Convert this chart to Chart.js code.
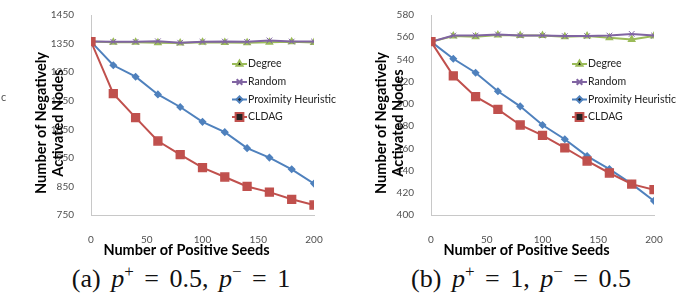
<!DOCTYPE html>
<html>
<head>
<meta charset="utf-8">
<script src="https://cdn.jsdelivr.net/npm/chart.js@4/dist/chart.umd.min.js"></script>
<style>
  body { margin: 0; background: #fff; width: 683px; height: 303px; overflow: hidden; position: relative; }
  .box { position: absolute; top: 0; width: 340px; height: 262px; }
  .cap { position: absolute; top: 264px; width: 362px; text-align: center; word-spacing: 4px;
         font-family: "Liberation Serif", serif; font-size: 26px; color: #111; white-space: nowrap; }
  .cap sup { font-size: 17px; vertical-align: 10px; line-height: 0; }
  .ytitle { position: absolute; top: 122.5px; width: 170px; text-align: center; line-height: 18px;
            font: bold 14.5px Lato, sans-serif; color: #000; white-space: nowrap;
            transform: translate(-50%, -50%) rotate(-90deg); }
  .stray { position: absolute; left: 1px; top: 90px; font: 11px Lato, sans-serif; color: #555; }
</style>
</head>
<body>
<div class="box" style="left:0"><canvas id="chartA" width="340" height="262"></canvas></div>
<div class="box" style="left:340px"><canvas id="chartB" width="340" height="262"></canvas></div>
<div class="ytitle" style="left:49px"></div>
<div class="ytitle" style="left:389px"></div>
<div class="cap" style="left:0">(a) <i>p</i><sup>+</sup> = 0.5, <i>p</i><sup>−</sup> = 1</div>
<div class="cap" style="left:340px">(b) <i>p</i><sup>+</sup> = 1, <i>p</i><sup>−</sup> = 0.5</div>
<div class="stray">c</div>
<script>
// données
const seeds = [0, 20, 40, 60, 80, 100, 120, 140, 160, 180, 200];
const seriesNames = ['Degree', 'Random', 'Proximity Heuristic', 'CLDAG'];

const degreeA = [1357, 1355, 1355, 1353, 1352, 1355, 1354, 1353, 1355, 1356, 1354];
const randomA = [1357, 1356, 1356, 1358, 1353, 1356, 1357, 1356, 1361, 1357, 1357];
const proximityA = [1357, 1274, 1234, 1172, 1128, 1076, 1040, 984, 951, 910, 860];
const cldagA = [1357, 1175, 1091, 1009, 961, 916, 883, 850, 830, 805, 785];

const degreeB = [556, 561, 560.5, 562, 561.5, 561.5, 560.5, 561, 559.5, 558, 561];
const randomB = [556, 561.5, 561.5, 562.5, 561.5, 561.5, 561, 561, 561.5, 563, 561.5];
const proximityB = [556, 540.6, 528, 511.4, 497.8, 481, 468.2, 453, 441.3, 428, 412.7];
const cldagB = [556, 525.3, 506.5, 495, 481, 471.7, 460.4, 448.6, 437.8, 427.8, 422.8];

const xTicks = [0, 50, 100, 150, 200];
const yRangeA = [750, 1450, 100];
const yRangeB = [400, 580, 20];

const xTitle = 'Number of Positive Seeds';
const yTitle = ['Number of Negatively', 'Activated Nodes'];

document.querySelectorAll('.ytitle').forEach(el => {
  el.innerHTML = yTitle.join('<br>');
});

const styles = [
  { color: '#9bbb59', pointStyle: 'triangle', radius: 3.5, order: 3 },
  { color: '#8064a2', pointStyle: 'crossRot', radius: 4, order: 2 },
  { color: '#4f81bd', pointStyle: 'rectRot', radius: 3, order: 1 },
  { color: '#c0504d', pointStyle: 'rect', radius: 5.5, order: 0 }
];

const tickFont = { family: 'Lato', size: 10 };

function pts(values) {
  return values.map((v, i) => ({ x: seeds[i], y: v }));
}

// titre de l'axe x et légende dessinés à la main
const extras = {
  id: 'extras',
  afterDraw(chart) {
    const { ctx, chartArea } = chart;
    ctx.save();
    ctx.fillStyle = '#000';
    ctx.font = 'bold 14.5px Lato';
    ctx.textAlign = 'center';
    ctx.textBaseline = 'middle';
    ctx.fillText(xTitle, (chartArea.left + chartArea.right) / 2 - 16, chartArea.bottom + 35);

    const lx = chartArea.left + 141;
    const rows = [49, 67, 84.5, 102];
    ctx.font = '10.5px Lato';
    ctx.textAlign = 'left';
    chart.data.datasets.forEach((ds, i) => {
      const y = chartArea.top + rows[i];
      ctx.strokeStyle = ds.borderColor;
      ctx.lineWidth = 2;
      ctx.beginPath();
      ctx.moveTo(lx, y);
      ctx.lineTo(lx + 15, y);
      ctx.stroke();
      Chart.helpers.drawPoint(ctx, {
        pointStyle: ds.pointStyle, radius: ds.pointRadius, rotation: 0, borderWidth: ds.pointBorderWidth
      }, lx + 7.5, y);
      ctx.fillStyle = '#222';
      ctx.fillText(ds.label, lx + 16, y);
    });
    ctx.restore();
  }
};

function makeChart(id, series, yRange) {
  const ctx = document.getElementById(id).getContext('2d');
  const datasets = series.map((vals, i) => ({
    label: seriesNames[i],
    data: pts(vals),
    borderColor: styles[i].color,
    backgroundColor: styles[i].color,
    pointStyle: styles[i].pointStyle,
    pointRadius: styles[i].radius,
    pointBorderWidth: i === 1 ? 1 : 1.5,
    borderWidth: 2,
    order: styles[i].order,
    fill: false
  }));

  return new Chart(ctx, {
    type: 'line',
    data: { datasets: datasets },
    options: {
      responsive: false,
      animation: false,
      layout: { padding: { top: 8, right: 26, left: 0, bottom: 0 } },
      plugins: { legend: { display: false }, tooltip: { enabled: false } },
      scales: {
        x: {
          type: 'linear',
          min: 0, max: 200,
          afterBuildTicks: s => { s.ticks = xTicks.map(v => ({ value: v })); },
          afterFit: s => { s.height = 47; },
          grid: { display: false },
          border: { color: '#c8c8c8', width: 1 },
          ticks: { font: tickFont, color: '#505050', padding: 11, maxRotation: 0, callback: v => v }
        },
        y: {
          min: yRange[0], max: yRange[1],
          afterFit: s => { s.width = 91; },
          grid: { display: false },
          border: { color: '#c8c8c8', width: 1 },
          ticks: { stepSize: yRange[2], font: tickFont, color: '#505050', padding: 9, callback: v => v }
        }
      }
    },
    plugins: [extras]
  });
}

makeChart('chartA', [degreeA, randomA, proximityA, cldagA], yRangeA);
makeChart('chartB', [degreeB, randomB, proximityB, cldagB], yRangeB);
</script>
</body>
</html>
